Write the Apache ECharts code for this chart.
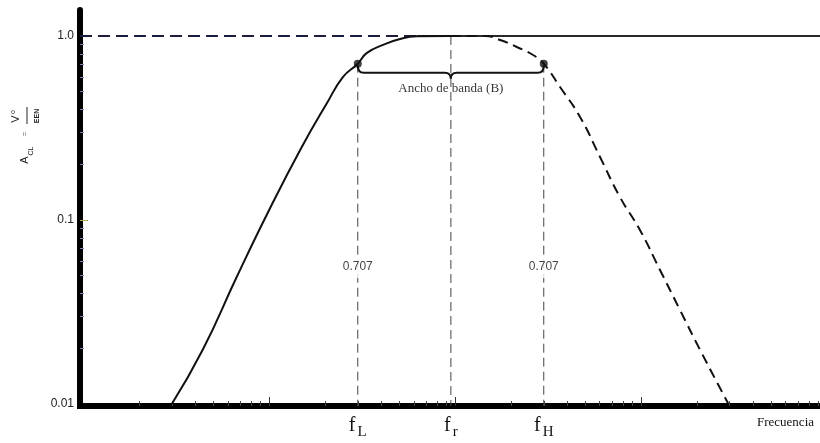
<!DOCTYPE html>
<html><head><meta charset="utf-8">
<script src="https://cdn.jsdelivr.net/npm/echarts@6/dist/echarts.min.js"></script>
<style>html,body{margin:0;padding:0;background:#fff}#c{width:820px;height:443px}</style>
</head><body><div id="c"></div>
<script>
// ---- data ----
const fL = 30, fR = 95, fH = 300;
const cutoffGain = 0.707;
const riseX = [3, 4.4, 6.7, 10, 15, 20.5, 25, 30, 33.6, 41, 50.6, 62.5, 95];
const riseY = [0.01, 0.0197, 0.049, 0.113, 0.249, 0.432, 0.599, 0.707, 0.809, 0.894, 0.963, 0.995, 1.0];
const fallX = [95, 145, 175, 215, 263, 300, 367, 470, 602, 771, 988, 1265, 1621, 2076, 2937];
const fallY = [1.0, 1.0, 0.951, 0.871, 0.788, 0.707, 0.528, 0.363, 0.220, 0.133, 0.088, 0.0535, 0.0324, 0.0197, 0.0101];
const refLevel = 1.0;
const refDashedX = [0.963, 62.5];
const refSolidX = [62.5, 9170];
const xRange = [0.963, 9170];
const yRange = [0.00975, 1.384];
const yTickLabels = [0.01, 0.1, 1];
const yMajorTicks = [0.1];
const yMinorTicks = [0.02, 0.03, 0.04, 0.05, 0.06, 0.07, 0.08, 0.09, 0.2, 0.3, 0.4, 0.5, 0.6, 0.7, 0.8, 0.9];
const xDecadeTicks = [10, 100, 1000];
const xMinorTicks = [2,3,4,5,6,7,8,9,20,30,40,50,60,70,80,90,200,300,400,500,600,700,800,900,2000,3000,4000,5000,6000,7000,8000,9000];
const xTickLabels = [fL, fR, fH];
const xSubscripts = ['L', 'r', 'H'];
const cutoffLabel = '0.707';
const cutoffLabelLevel = 0.0555;
const bandLabel = 'Ancho de banda (B)';
const bandLabelLevel = 0.515;
const xName = 'Frecuencia';

const zip = (xs, ys) => xs.map((x, i) => [x, ys[i]]);
const serif = 'Liberation Serif';
const sans = 'Liberation Sans';

const chart = echarts.init(document.getElementById('c'), null, {renderer: 'canvas'});
const vline = (x, top) => ({
  type: 'line', data: [[x, top], [x, yRange[0]]], symbol: 'none', silent: true, z: 1,
  lineStyle: {color: '#444', width: 1, type: [9, 5]}
});

chart.setOption({
  animation: false,
  backgroundColor: '#fff',
  grid: {left: 80, right: 0, top: 10, bottom: 37},
  xAxis: [{
    type: 'log', logBase: 10, min: xRange[0], max: xRange[1], position: 'bottom',
    axisLine: {show: true, onZero: false, lineStyle: {color: '#000', width: 6, cap: 'square'}},
    axisTick: {show: true, inside: true, length: 9, customValues: xDecadeTicks, lineStyle: {color: '#333', width: 1}},
    axisLabel: {
      show: true, customValues: xTickLabels, margin: 10,
      formatter: v => {
        const i = xTickLabels.findIndex(t => Math.abs(t - v) / t < 0.01);
        return '{f|f}{s|' + (xSubscripts[i] || '') + '}';
      },
      rich: {
        f: {fontFamily: serif, fontSize: 20, color: '#111', lineHeight: 20, verticalAlign: 'top'},
        s: {fontFamily: serif, fontSize: 15, color: '#111', lineHeight: 20, padding: [9, 0, 0, 2], verticalAlign: 'top'}
      }
    },
    splitLine: {show: false}
  }, {
    type: 'log', logBase: 10, min: xRange[0], max: xRange[1], position: 'bottom',
    axisLine: {show: false},
    axisTick: {show: true, inside: true, length: 5, customValues: xMinorTicks, lineStyle: {color: '#444', width: 1}},
    axisLabel: {show: false}, splitLine: {show: false}
  }],
  yAxis: [{
    type: 'log', logBase: 10, min: yRange[0], max: yRange[1], position: 'left',
    axisLine: {show: true, onZero: false, lineStyle: {color: '#000', width: 6, cap: 'round'}},
    axisTick: {show: true, inside: true, length: 8, customValues: yMajorTicks, lineStyle: {color: '#b8a850', width: 1}},
    axisLabel: {
      show: true, customValues: yTickLabels, margin: 6, color: '#222', fontFamily: sans, fontSize: 12,
      formatter: v => v > 0.5 ? '1.0' : (v > 0.05 ? '0.1' : '0.01')
    },
    splitLine: {show: false}
  }, {
    type: 'log', logBase: 10, min: yRange[0], max: yRange[1], position: 'left',
    axisLine: {show: false},
    axisTick: {show: true, inside: true, length: 4, customValues: yMinorTicks, lineStyle: {color: '#8080b0', width: 1}},
    axisLabel: {show: false}, splitLine: {show: false}
  }],
  series: [
    {type: 'line', data: [[refDashedX[0], refLevel], [refDashedX[1], refLevel]], symbol: 'none', z: 2,
      lineStyle: {color: '#1c1c3c', width: 2, type: [12, 6]}},
    {type: 'line', data: [[refSolidX[0], refLevel], [refSolidX[1], refLevel]], symbol: 'none', z: 2,
      lineStyle: {color: '#2a2a2a', width: 2}},
    vline(fL, cutoffGain), vline(fR, refLevel), vline(fH, cutoffGain),
    {type: 'line', data: zip(riseX, riseY), symbol: 'none', smooth: 0.5, z: 3,
      lineStyle: {color: '#111', width: 2}},
    {type: 'line', data: zip(fallX, fallY), symbol: 'none', smooth: 0.5, z: 3,
      lineStyle: {color: '#111', width: 2, type: [10, 6]}},
    {type: 'scatter', data: [[fL, cutoffGain], [fH, cutoffGain]], symbol: 'circle', symbolSize: 8, z: 5,
      itemStyle: {color: '#111'}},
    {type: 'scatter', data: [[fL, cutoffLabelLevel], [fH, cutoffLabelLevel]], symbolSize: 0, z: 4,
      label: {show: true, position: 'inside', formatter: cutoffLabel, color: '#111', fontFamily: sans, fontSize: 12,
        backgroundColor: '#fff', padding: [5, 1, 5, 1]}},
    {type: 'scatter', data: [[fR, bandLabelLevel]], symbolSize: 0, z: 4,
      label: {show: true, position: 'inside', formatter: bandLabel, color: '#000', fontFamily: serif, fontSize: 13}},
    {type: 'custom', z: 4, clip: false, data: [[fL, fH, cutoffGain]],
      renderItem: (params, api) => {
        const p1 = api.coord([api.value(0), api.value(2)]);
        const p2 = api.coord([api.value(1), api.value(2)]);
        const pm = api.coord([Math.sqrt(api.value(0) * api.value(1)), api.value(2)]);
        const x1 = p1[0], x2 = p2[0], xm = pm[0];
        const y0 = p1[1] + 2, yh = p1[1] + 9, yt = p1[1] + 15, r = 6;
        const d = `M${x1},${y0} Q${x1},${yh} ${x1 + r},${yh} L${xm - r},${yh} Q${xm},${yh} ${xm},${yt} ` +
          `Q${xm},${yh} ${xm + r},${yh} L${x2 - r},${yh} Q${x2},${yh} ${x2},${y0}`;
        return {type: 'path', shape: {pathData: d}, style: {stroke: '#111', lineWidth: 2, fill: 'none'}};
      }}
  ],
  graphic: [
    {type: 'text', left: 757, top: 416, style: {text: xName, fontFamily: serif, fontSize: 13, fill: '#111'}},
    {type: 'group', x: 27, y: 162, rotation: Math.PI / 2, children: [
      {type: 'text', x: 2, y: -2, style: {text: 'A', fontFamily: sans, fontSize: 11, fill: '#222', align: 'center', verticalAlign: 'middle'}},
      {type: 'text', x: 11, y: 4, style: {text: 'CL', fontFamily: sans, fontSize: 7, fill: '#222', align: 'center', verticalAlign: 'middle'}},
      {type: 'text', x: 28, y: -2, style: {text: '=', fontFamily: sans, fontSize: 7, fill: '#555', align: 'center', verticalAlign: 'middle'}},
      {type: 'text', x: 43, y: -11, style: {text: 'V', fontFamily: sans, fontSize: 11, fill: '#222', align: 'center', verticalAlign: 'middle'}},
      {type: 'text', x: 50, y: -14, style: {text: 'o', fontFamily: sans, fontSize: 7, fill: '#222', align: 'center', verticalAlign: 'middle'}},
      {type: 'line', shape: {x1: 38, y1: 0, x2: 55, y2: 0}, style: {stroke: '#222', lineWidth: 1}},
      {type: 'text', x: 46, y: 10, style: {text: 'EEN', fontFamily: sans, fontSize: 7, fontWeight: 'bold', fill: '#222', align: 'center', verticalAlign: 'middle'}}
    ]}
  ]
});
</script></body></html>
